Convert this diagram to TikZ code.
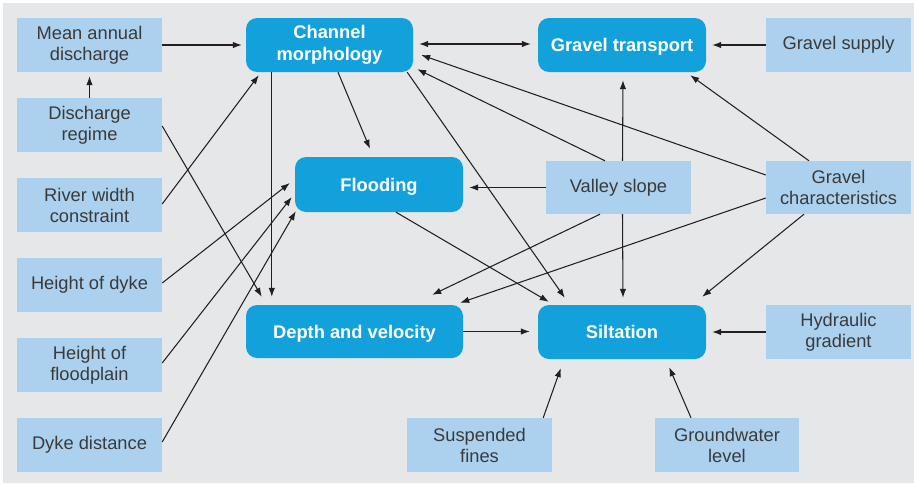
\documentclass[tikz,border=0pt]{standalone}
\usepackage{fontspec}
\setmainfont{Liberation Sans}
\usetikzlibrary{arrows.meta}
\definecolor{bgc}{HTML}{E6E7E9}
\definecolor{lightbox}{HTML}{ABD1EE}
\definecolor{darkbox}{HTML}{12A1DA}
\definecolor{txtc}{HTML}{3A3A3A}
\definecolor{linec}{HTML}{231F20}
\begin{document}
\begin{tikzpicture}[x=1pt,y=-1pt,
  factor/.style={fill=lightbox, text=txtc, minimum width=145pt, minimum height=54pt,
    inner sep=0pt, align=center, font=\fontsize{18.3}{21}\selectfont},
  process/.style={fill=darkbox, text=white, rounded corners=11pt, minimum height=54pt,
    inner sep=0pt, align=center, font=\fontsize{18.3}{22}\selectfont\bfseries},
  oneline/.style={text depth=0pt},
  link/.style={draw=linec, line width=1.05pt, -{Latex[length=9pt,width=6.5pt]}},
  dlink/.style={draw=linec, line width=1.05pt, {Latex[length=9pt,width=6.5pt]}-{Latex[length=9pt,width=6.5pt]}}
]
\useasboundingbox (0,0) rectangle (914,485);
\fill[white] (0,0) rectangle (914,485);
\fill[bgc] (3,3) rectangle (914,483);

% left factors
\node[factor] (mad) at (89.5,45) {Mean annual\\discharge};
\node[factor] (dr)  at (89.5,125) {Discharge\\regime};
\node[factor] (rwc) at (89.5,205) {River width\\constraint};
\node[factor] (hd)  at (89.5,285) {Height of dyke};
\node[factor] (hf)  at (89.5,365) {Height of\\floodplain};
\node[factor] (dd)  at (89.5,445) {Dyke distance};
% right and bottom factors
\node[factor] (gs) at (838.5,45) {Gravel supply};
\node[factor, minimum height=53pt] (vs) at (618.5,187.5) {Valley slope};
\node[factor, minimum height=53pt] (gc) at (838.5,187.5) {Gravel\\characteristics};
\node[factor] (hg) at (838.5,332) {Hydraulic\\gradient};
\node[factor] (sf) at (479.5,445) {Suspended\\fines};
\node[factor, minimum width=144pt] (gl) at (727,445) {Groundwater\\level};
% processes
\node[process, minimum width=167pt] (cm) at (329.5,45) {Channel\\morphology};
\node[process, oneline, minimum width=168pt, minimum height=55pt] (fl) at (379,184.5) {Flooding};
\node[process, oneline, minimum width=217pt, minimum height=53pt] (dv) at (354.5,331.5) {Depth and velocity};
\node[process, oneline, minimum width=168pt] (gt) at (622,45) {Gravel transport};
\node[process, minimum width=168pt] (si) at (622,332) {Siltation};

% connectors
\draw[link] (mad.east) -- ([xshift=-4pt]cm.west);
\draw[link] (dr.north) -- ([yshift=-4pt]mad.south);
\draw[link] ([yshift=-1pt]dr.east) -- ([xshift=16pt,yshift=8pt]dv.north west);
\draw[link] ([yshift=1pt]rwc.east) -- ([xshift=13pt,yshift=-3pt]cm.south west);
\draw[link] ([yshift=2pt]hd.east) -- ([xshift=-5pt,yshift=1.5pt]fl.west);
\draw[link] ([yshift=2pt]hf.east) -- ([xshift=-3pt,yshift=-12.5pt]fl.west);
\draw[link] ([yshift=3pt]dd.east) -- ([xshift=1pt,yshift=1pt]fl.south west);
\draw[link] ([xshift=26pt]cm.south west) -- ([xshift=26pt,yshift=8pt]dv.north west);
\draw[link] ([xshift=8.5pt]cm.south) -- ([xshift=-9pt,yshift=8pt]fl.north);
\draw[link] ([xshift=-6pt]cm.south east) -- ([xshift=27pt,yshift=7pt]si.north west);
\draw[link] ([xshift=17pt]fl.south) -- ([xshift=11pt,yshift=3pt]si.north west);
\draw[dlink] ([xshift=6pt,yshift=1pt]cm.east) -- ([xshift=-7pt,yshift=1pt]gt.west);
\draw[link] ([yshift=12.5pt]gc.west) -- ([xshift=8pt,yshift=-10pt]cm.east);
\draw[link] ([xshift=-13.5pt]vs.north) -- ([xshift=4pt,yshift=3pt]cm.south east);
\draw[link] ([xshift=4pt]vs.north) -- ([xshift=1pt,yshift=-8pt]gt.south);
\draw[link] (gs.west) -- ([xshift=6pt]gt.east);
\draw[link] ([xshift=-29.5pt]gc.north) -- ([xshift=-16pt,yshift=-3pt]gt.south east);
\draw[link] (vs.west) -- ([xshift=6pt]fl.east |- vs.west);
\draw[link] ([xshift=-18.5pt]vs.south) -- ([xshift=-31pt,yshift=10pt]dv.north east);
\draw[link] ([yshift=-10.5pt]gc.west) -- ([xshift=-3pt,yshift=2pt]dv.north east);
\draw[link] ([xshift=4pt]vs.south) -- ([xshift=1pt,yshift=7pt]si.north);
\draw[link] ([xshift=-34.5pt]gc.south) -- ([xshift=-4pt,yshift=8pt]si.north east);
\draw[link] (dv.east) -- ([xshift=-8pt]si.west |- dv.east);
\draw[link] (hg.west) -- ([xshift=6pt]si.east);
\draw[link] ([xshift=-9pt]sf.north east) -- ([xshift=23pt,yshift=-9pt]si.south west);
\draw[link] ([xshift=-36pt]gl.north) -- ([xshift=-37pt,yshift=-8pt]si.south east);
\end{tikzpicture}
\end{document}
